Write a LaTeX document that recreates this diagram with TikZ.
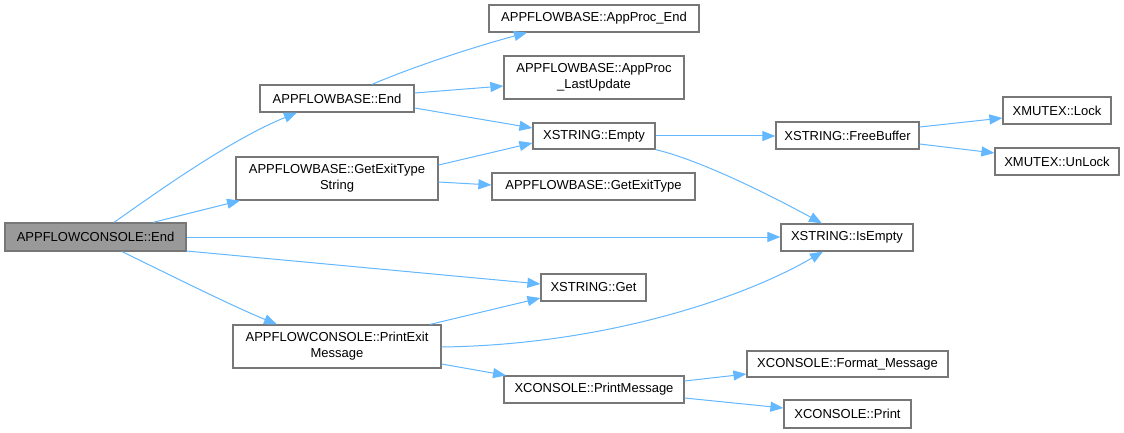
\documentclass[tikz,border=0pt]{standalone}
\usepackage{fontspec}
\setmainfont{Liberation Sans}
\usetikzlibrary{arrows.meta}
\definecolor{edgeblue}{HTML}{63B8FF}
\definecolor{boxline}{HTML}{777777}
\definecolor{mainfill}{HTML}{999999}
\tikzset{
  fn/.style={draw=boxline, line width=1.2pt, fill=white, inner sep=0pt, align=center,
    font=\fontsize{13}{16}\selectfont},
  mainfn/.style={fn, fill=mainfill},
  call/.style={draw=edgeblue, line width=1pt, -{Triangle[length=13pt,width=10pt]}, edgeblue},
}
\begin{document}
\begin{tikzpicture}[x=1pt,y=-1pt]
\useasboundingbox[fill=white] (0,0) rectangle (1124,433);
% nodes
\node[mainfn, minimum width=181pt, minimum height=28pt] (ce) at (95.5,237) {APPFLOWCONSOLE::End};
\node[fn, minimum width=154pt, minimum height=27pt] (be) at (337,98.5) {APPFLOWBASE::End};
\node[fn, minimum width=202pt, minimum height=43pt] (gets) at (337,178.5) {APPFLOWBASE::GetExitType\\String};
\node[fn, minimum width=208pt, minimum height=43pt] (pem) at (337,346.5) {APPFLOWCONSOLE::PrintExit\\Message};
\node[fn, minimum width=210pt, minimum height=27pt] (ape) at (594,18.5) {APPFLOWBASE::AppProc\_End};
\node[fn, minimum width=180pt, minimum height=43pt] (alu) at (594,77.5) {APPFLOWBASE::AppProc\\\_LastUpdate};
\node[fn, minimum width=122pt, minimum height=26pt] (emp) at (594,136) {XSTRING::Empty};
\node[fn, minimum width=203pt, minimum height=27pt] (get) at (593.5,186.5) {APPFLOWBASE::GetExitType};
\node[fn, minimum width=105pt, minimum height=27pt] (xget) at (593.5,287.5) {XSTRING::Get};
\node[fn, minimum width=180pt, minimum height=27pt] (pm) at (594,389.5) {XCONSOLE::PrintMessage};
\node[fn, minimum width=143pt, minimum height=27pt] (fb) at (847.5,135.5) {XSTRING::FreeBuffer};
\node[fn, minimum width=108pt, minimum height=27pt] (lock) at (1057,110.5) {XMUTEX::Lock};
\node[fn, minimum width=124pt, minimum height=27pt] (unlock) at (1057,161.5) {XMUTEX::UnLock};
\node[fn, minimum width=132pt, minimum height=27pt] (ise) at (847,237.5) {XSTRING::IsEmpty};
\node[fn, minimum width=201pt, minimum height=26pt] (fm) at (847.5,364) {XCONSOLE::Format\_Message};
\node[fn, minimum width=127pt, minimum height=28pt] (pr) at (847.5,414) {XCONSOLE::Print};
% edges
\draw[call] (ce.north -| 114,0) .. controls (160,190) and (230,140) .. (be.south -| 297,0);
\draw[call] (ce.north -| 153,0) -- (gets.south -| 240,0);
\draw[call] (ce.east |- 0,237) -- (ise.west |- 0,237);
\draw[call] (ce.east |- 0,251) -- (xget.west |- 0,284);
\draw[call] (ce.south -| 122,0) .. controls (170,275) and (230,305) .. (pem.north -| 277,0);
\draw[call] (be.north -| 372,0) .. controls (410,68) and (470,48) .. (ape.south -| 527,0);
\draw[call] (be.east |- 0,93) -- (alu.west |- 0,86);
\draw[call] (be.east |- 0,108) -- (emp.west |- 0,128);
\draw[call] (gets.east |- 0,165) -- (emp.west |- 0,143);
\draw[call] (gets.east |- 0,182) -- (get.west |- 0,185);
\draw[call] (emp.east |- 0,136) -- (fb.west |- 0,136);
\draw[call] (emp.south east) .. controls (700,160) and (770,195) .. (ise.north -| 822,0);
\draw[call] (pem.north -| 430,0) -- (xget.west |- 0,298);
\draw[call] (pem.east |- 0,347) .. controls (600,345) and (740,300) .. (ise.south -| 823,0);
\draw[call] (pem.east |- 0,364) -- (pm.north -| 506,0);
\draw[call] (pm.east |- 0,381) -- (fm.west |- 0,374);
\draw[call] (pm.east |- 0,398) -- (pr.west |- 0,408);
\draw[call] (fb.east |- 0,127) -- (lock.west |- 0,118);
\draw[call] (fb.east |- 0,144) -- (unlock.west |- 0,153);
\end{tikzpicture}
\end{document}
